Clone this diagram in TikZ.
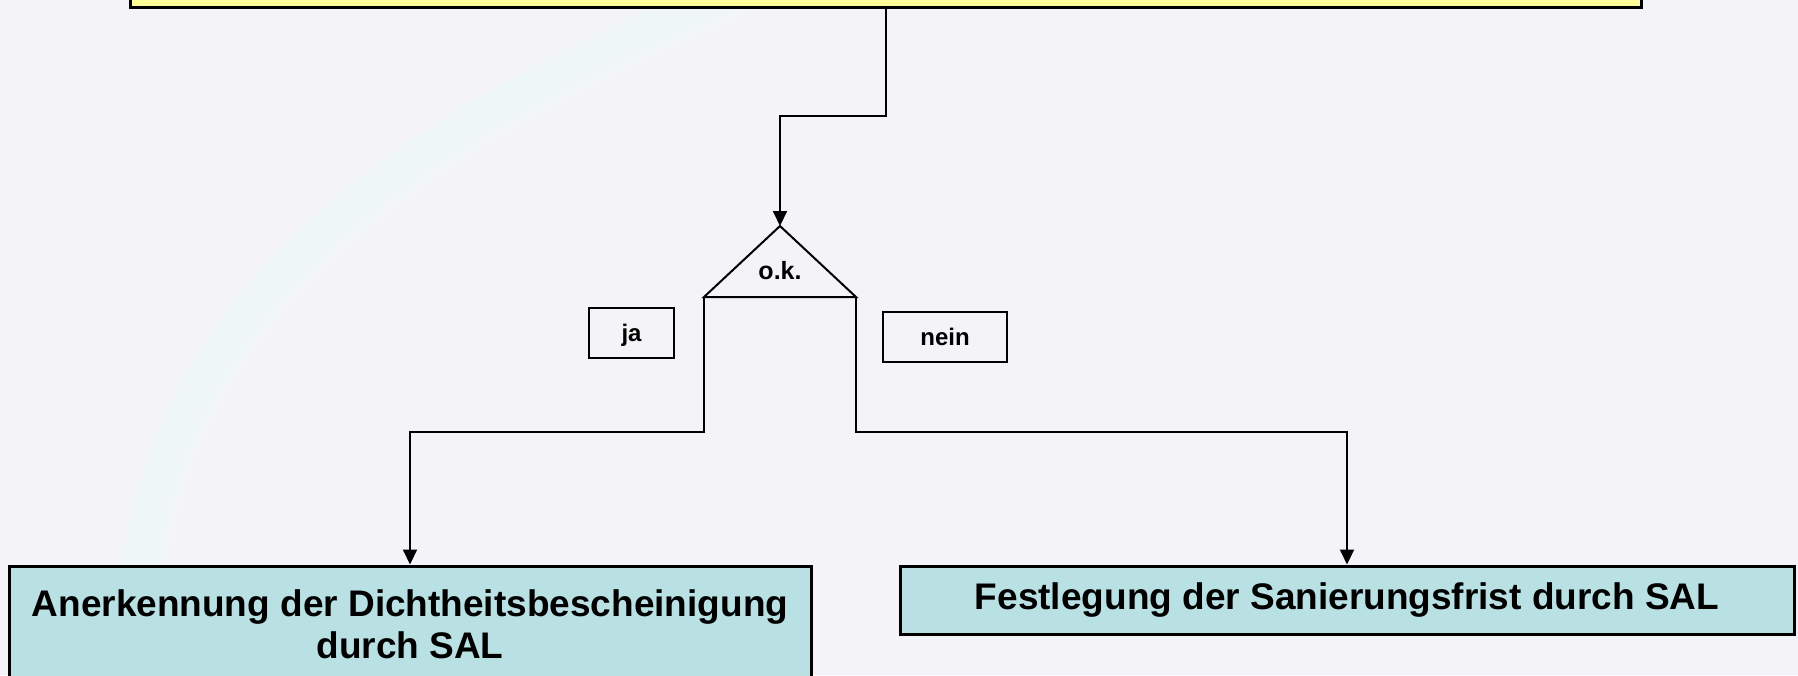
\documentclass[tikz,border=0pt]{standalone}
\usepackage{fontspec}
\setmainfont{Liberation Sans}
\usetikzlibrary{arrows.meta,shadows}
\definecolor{bgcol}{HTML}{F4F4F8}
\definecolor{bandcol}{HTML}{EFFFFF}
\definecolor{notecol}{HTML}{FFFF99}
\definecolor{tealbox}{HTML}{B9E0E3}

\begin{document}
\begin{tikzpicture}[x=1pt,y=-1pt,
  link/.style={draw=black, line width=2pt},
  flow/.style={link, -{Triangle[length=15pt,width=14pt]}},
  boxshadow/.style={drop shadow={shadow xshift=1.5pt,shadow yshift=-2pt,fill=black!55,opacity=1}},
  note/.style={draw=black, line width=3pt, fill=notecol, inner sep=0pt, boxshadow},
  result/.style={draw=black, line width=3pt, fill=tealbox, align=center,
    font=\fontsize{37}{42.5}\selectfont\bfseries, inner sep=0pt, boxshadow},
  tag/.style={draw=black, line width=2pt, inner sep=0pt, text height=17pt, text depth=0pt,
    font=\fontsize{24}{28}\selectfont\bfseries},
  oklabel/.style={font=\fontsize{25}{29}\selectfont\bfseries, inner sep=0pt},
]
\useasboundingbox (0,0) rectangle (1798,675);

% background: plain fill, a soft light spot and a faint arc band
\fill[bgcol] (0,0) rectangle (1798,675);
\begin{scope}
  \clip (0,0) rectangle (1798,675);
  \foreach \i [evaluate=\i as \rr using {620-24*\i}] in {0,...,24} {
    \fill[white, opacity=0.028] (1170,560) circle (\rr pt);
  }
  % the band: strokes of growing width along one edge, kept on its inner side
  \begin{scope}
    \clip (112,700) .. controls (110,380) and (250,170) .. (760,-40)
          -- (1900,-40) -- (1900,760) -- (112,760) -- cycle;
    \foreach \w in {6,12,...,90} {
      \draw[bandcol, line width=\w pt, opacity=0.1]
        (112,700) .. controls (110,380) and (250,170) .. (760,-40);
    }
  \end{scope}
\end{scope}

% top box (only its lower edge is in view)
\node[note, minimum width=1511pt, minimum height=80pt] (top) at (885.5,-33) {};

% decision triangle
\coordinate (apex) at (780,226);
\coordinate (bl) at (704,297);
\coordinate (br) at (856,297);
\draw[link, line join=miter] (apex) -- (br) -- (bl) -- cycle;
\node[oklabel] (ok) at (780,271) {o.k.};

% branch labels
\node[tag, minimum width=85pt, minimum height=50pt] (ja) at (631.5,333) {ja};
\node[tag, minimum width=124pt, minimum height=50pt] (nein) at (945,337) {nein};

% outcomes
\node[result, minimum width=802pt, minimum height=117pt] (yes) at (410,624.5)
  {Anerkennung der Dichtheitsbescheinigung\\durch SAL};
\node[result, minimum width=894pt, minimum height=68pt] (no) at (1347,600)
  {Festlegung der Sanierungsfrist durch SAL};

% connectors
\coordinate (k1) at (885.5,116);
\coordinate (kl) at (704,432);
\coordinate (kr) at (856,432);
\draw[flow] (top.south) -- (k1) -| (apex);
\draw[flow] (bl) -- (kl) -| (yes.north);
\draw[flow] (br) -- (kr) -| (no.north);
\end{tikzpicture}
\end{document}
